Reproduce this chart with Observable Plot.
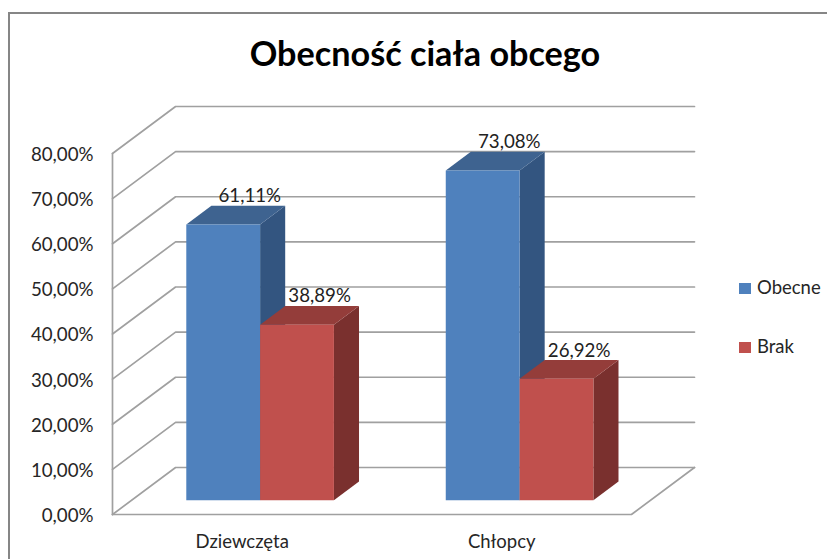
<!DOCTYPE html>
<html lang="pl">
<head>
<meta charset="utf-8">
<script src="https://cdn.jsdelivr.net/npm/d3@7"></script>
<script src="https://cdn.jsdelivr.net/npm/@observablehq/plot@0.6"></script>
<style>
  html, body { margin: 0; padding: 0; background: #fff; width: 827px; height: 559px; overflow: hidden; }
  #wrap { position: relative; width: 827px; height: 559px; overflow: hidden; font-family: Lato, sans-serif; }
  #wrap svg { display: block; position: absolute; left: 0; top: 0; background: transparent; }
  #frame { position: absolute; left: 8px; top: 12px; width: 900px; height: 700px; border: 2px solid #868686; }
  #title { position: absolute; left: 0; top: 30px; width: 850px; margin: 0; text-align: center; font: 700 34.2px/46px Lato, sans-serif; color: #000; }
  .lg { position: absolute; left: 739px; font-size: 18.5px; line-height: 22px; color: #262626; white-space: nowrap; }
  .lg i { display: inline-block; width: 12px; height: 11px; margin-right: 6px; }
</style>
</head>
<body>
<div id="wrap">
  <div id="frame"></div>
  <h1 id="title">Obecność ciała obcego</h1>
</div>
<script>
const chartTitle = "Obecność ciała obcego";
const categories = ["Dziewczęta", "Chłopcy"];
const seriesNames = ["Obecne", "Brak"];
const obecne = [61.11, 73.08];
const brak = [38.89, 26.92];
const yTicks = [0, 10, 20, 30, 40, 50, 60, 70, 80];
const fmt = v => v.toFixed(2).replace(".", ",") + "%";

// oblique projection: depth 0 is the front plane, depth 1 the back wall
const DX = 0.243, DY = 10.42;
const P = (pos, depth, value) => ({x: pos + depth * DX, y: value + depth * DY});
const D0 = 0.304, D1 = 0.702;          // depth span of bars
const BARW = 0.2845;                   // width of one bar in category units
const BAR_SHIFT = -0.005;

const palette = [
  {front: "#4F81BD", top: "#3E6390", side: "#335580"},
  {front: "#C0504D", top: "#943D3A", side: "#7A302E"}
];
const labelDx = [1.5, -2.5];
const gridColor = "#a0a0a0";

const marks = [];
const poly = (pts, fill) => marks.push(Plot.line(pts, {x: "x", y: "y", fill, stroke: "none"}));
const path = pts => marks.push(Plot.line(pts, {x: "x", y: "y", stroke: gridColor, strokeWidth: 1.7}));

// gridlines on side and back walls
yTicks.forEach(t => path([P(0, 0, t), P(0, 1, t), P(2, 1, t)]));
// floor edge and vertical axis
path([P(0, 0, 0), P(2, 0, 0), P(2, 1, 0)]);
path([P(0, 0, 0), P(0, 0, 80)]);

// bars
const labels = [[], []];
categories.forEach((c, i) => {
  const center = i + 0.5 + BAR_SHIFT;
  [obecne[i], brak[i]].forEach((v, s) => {
    const a = center + (s - 1) * BARW, b = a + BARW, col = palette[s];
    poly([P(b, D0, 0), P(b, D1, 0), P(b, D1, v), P(b, D0, v)], col.side);
    poly([P(a, D0, v), P(b, D0, v), P(b, D1, v), P(a, D1, v)], col.top);
    poly([P(a, D0, 0), P(b, D0, 0), P(b, D0, v), P(a, D0, v)], col.front);
    labels[s].push({...P((a + b) / 2, D1, v), v});
  });
});

labels.forEach((rows, s) => marks.push(Plot.text(rows, {x: "x", y: "y", text: d => fmt(d.v), dx: labelDx[s], dy: -9.5, fontSize: 18.7, fill: "#222"})));

marks.push(Plot.axisY({ticks: yTicks, tickFormat: fmt, tickSize: 0, tickPadding: 19, dy: 1.5, fontSize: 18.7, color: "#262626", label: null}));
marks.push(Plot.axisX({ticks: [0.5, 1.5], tickFormat: d => categories[d - 0.5], tickSize: 0, tickPadding: 20, fontSize: 18.5, color: "#262626", label: null}));

const chart = Plot.plot({
  width: 827,
  height: 559,
  marginLeft: 112,
  marginRight: 133,
  marginTop: 106,
  marginBottom: 45,
  style: {fontFamily: "Lato, sans-serif", background: "transparent", overflow: "visible"},
  x: {type: "linear", domain: [0, 2 + DX], label: null},
  y: {type: "linear", domain: [0, 80 + DY], label: null},
  marks
});
const wrap = document.getElementById("wrap");
wrap.insertBefore(chart, document.getElementById("title"));

// legend
seriesNames.forEach((name, s) => {
  const el = document.createElement("div");
  el.className = "lg";
  el.style.top = (276 + s * 59) + "px";
  el.innerHTML = `<i style="background:${palette[s].front}"></i>${name}`;
  wrap.appendChild(el);
});
</script>
</body>
</html>
